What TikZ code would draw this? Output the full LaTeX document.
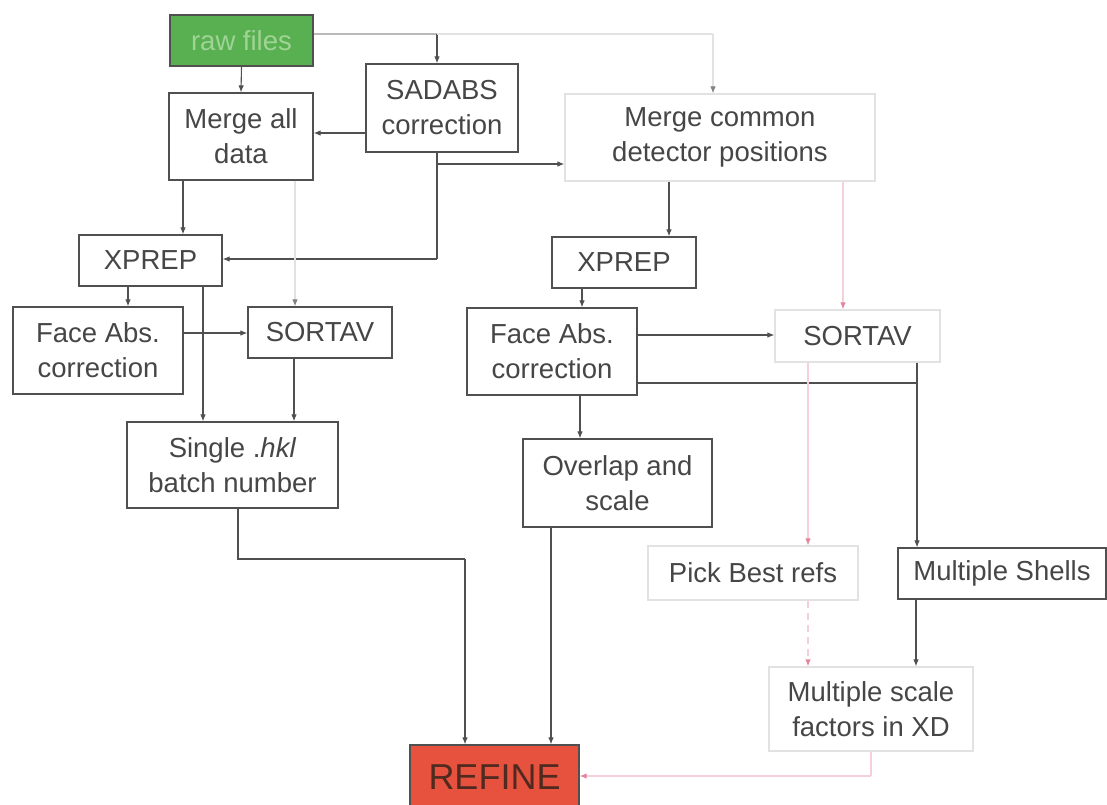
\documentclass[tikz,border=0pt]{standalone}
\usepackage{fontspec}
\setmainfont{Liberation Sans}
\usetikzlibrary{arrows.meta}
\definecolor{ln}{RGB}{80,80,80}
\definecolor{txt}{RGB}{70,70,70}
\definecolor{faint}{RGB}{226,226,226}
\definecolor{midln}{RGB}{185,185,185}
\definecolor{pinkln}{RGB}{245,208,216}
\definecolor{pinktip}{RGB}{228,135,158}
\definecolor{grn}{RGB}{88,176,80}
\definecolor{grntxt}{RGB}{160,212,150}
\definecolor{red}{RGB}{230,82,62}
\definecolor{redtxt}{RGB}{80,42,32}
\definecolor{ftip}{RGB}{130,130,130}
\tikzset{
  box/.style={draw=ln, line width=1.2pt, text=txt, align=center, inner sep=0pt,
    font=\fontsize{27.5}{35}\selectfont},
  fbox/.style={box, draw=faint},
  arr/.style={draw=ln, line width=1.1pt, -{Latex[length=7pt,width=5.5pt]}},
  ln/.style={draw=ln, line width=1.1pt},
  farr/.style={draw=faint, line width=1.1pt, -{Latex[length=7pt,width=5.5pt,color=ftip]}},
  fln/.style={draw=faint, line width=1.1pt},
  parr/.style={draw=pinkln, line width=1.1pt, -{Latex[length=7pt,width=5.5pt,color=pinktip]}},
}
\begin{document}
\begin{tikzpicture}[x=1pt,y=-1pt]
\useasboundingbox (0,0) rectangle (1107,804);
\fill[white] (0,0) rectangle (1107,804);

% nodes
\node[box, fill=grn, text=grntxt, minimum width=143pt, minimum height=51pt] (raw) at (241.5,40.5) {raw files};
\node[box, minimum width=152pt, minimum height=88pt] (sadabs) at (442,108) {SADABS\\correction};
\node[box, minimum width=144pt, minimum height=87pt] (mergeall) at (241,136.5) {Merge all\\data};
\node[fbox, minimum width=310pt, minimum height=87pt] (mergecommon) at (720,137.5) {Merge common\\detector positions};
\node[box, minimum width=143pt, minimum height=51pt] (xprepL) at (150.5,260.5) {XPREP};
\node[box, minimum width=144pt, minimum height=51pt] (xprepR) at (624,262.5) {XPREP};
\node[box, minimum width=170pt, minimum height=87pt] (faceL) at (98,350.5) {Face Abs.\\correction};
\node[box, minimum width=144pt, minimum height=51pt] (sortavL) at (320,332.5) {SORTAV};
\node[box, minimum width=170pt, minimum height=87pt] (faceR) at (552,351.5) {Face Abs.\\correction};
\node[fbox, minimum width=165pt, minimum height=52pt] (sortavR) at (857.5,336) {SORTAV};
\node[box, minimum width=211pt, minimum height=86pt] (single) at (232.5,465) {Single .\textit{hkl}\\batch number};
\node[box, minimum width=189pt, minimum height=88pt] (overlap) at (617.5,483) {Overlap and\\scale};
\node[fbox, minimum width=210pt, minimum height=54pt] (pick) at (753,573) {Pick Best refs};
\node[box, minimum width=208pt, minimum height=51pt] (shells) at (1002,573.5) {Multiple Shells};
\node[fbox, minimum width=204pt, minimum height=84pt] (scalef) at (871,709) {Multiple scale\\factors in XD};
\node[box, fill=red, text=redtxt, minimum width=169pt, minimum height=64pt,
  font=\fontsize{36}{42}\selectfont] (refine) at (494.5,777) {REFINE};

% coordinates
\coordinate (j1) at (437,34);
\coordinate (j2) at (713,34);
\coordinate (s1) at (437,164);
\coordinate (s2) at (437,259);
\coordinate (f1) at (917,383);
\coordinate (b1) at (238,559);
\coordinate (b2) at (465,559);
\coordinate (r1) at (871,776);

% connectors
\draw[arr] (raw.south) -- (mergeall.north);
\draw[midln, line width=1.1pt] (raw.east |- j1) -- (j1);
\draw[arr] (j1) -- (sadabs.north -| j1);
\draw[fln] (j1) -- (j2);
\draw[farr] (j2) -- (mergecommon.north -| j2);
\draw[arr] (sadabs.west |- 0,133) -- (mergeall.east |- 0,133);
\draw[ln] (sadabs.south -| s1) -- (s1);
\draw[arr] (s1) -- (mergecommon.west |- s1);
\draw[ln] (s1) -- (s2);
\draw[arr] (s2) -- (xprepL.east |- s2);
\draw[arr] (mergeall.south -| 183,0) -- (xprepL.north -| 183,0);
\draw[farr] (mergeall.south -| 295,0) -- (sortavL.north -| 295,0);
\draw[arr] (xprepL.south -| 128,0) -- (faceL.north -| 128,0);
\draw[arr] (xprepL.south -| 203,0) -- (single.north -| 203,0);
\draw[arr] (faceL.east |- 0,333) -- (sortavL.west |- 0,333);
\draw[arr] (sortavL.south -| 294,0) -- (single.north -| 294,0);
\draw[ln] (single.south -| b1) -- (b1) -- (b2);
\draw[arr] (b2) -- (refine.north -| b2);
\draw[arr] (mergecommon.south -| 669,0) -- (xprepR.north -| 669,0);
\draw[parr] (mergecommon.south -| 843,0) -- (sortavR.north -| 843,0);
\draw[arr] (xprepR.south -| 582,0) -- (faceR.north -| 582,0);
\draw[arr] (faceR.east |- 0,335) -- (sortavR.west |- 0,335);
\draw[ln] (faceR.east |- f1) -- (f1);
\draw[arr] (sortavR.south -| f1) -- (shells.north -| f1);
\draw[arr] (faceR.south -| 580,0) -- (overlap.north -| 580,0);
\draw[arr] (overlap.south -| 551,0) -- (refine.north -| 551,0);
\draw[parr] (sortavR.south -| 808,0) -- (pick.north -| 808,0);
\draw[parr, dash pattern=on 7pt off 5pt] (pick.south -| 808,0) -- (scalef.north -| 808,0);
\draw[arr] (shells.south -| 916,0) -- (scalef.north -| 916,0);
\draw[pinkln, line width=1.1pt] (scalef.south -| r1) -- (r1);
\draw[parr] (r1) -- (refine.east |- r1);
\end{tikzpicture}
\end{document}
